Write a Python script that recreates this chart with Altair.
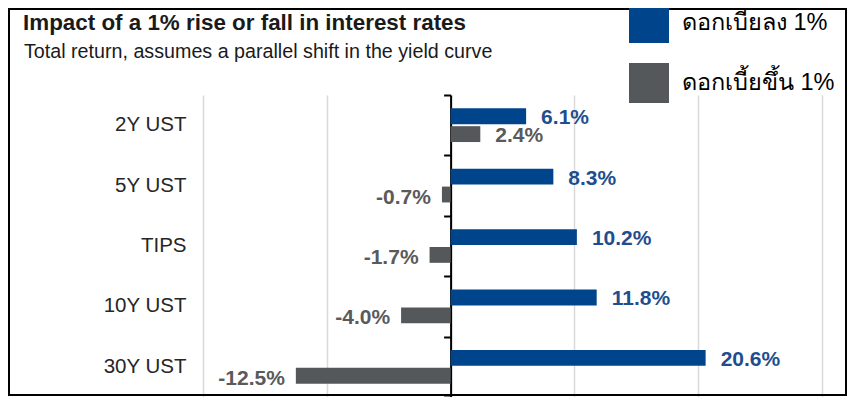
import altair as alt
import pandas as pd

categories = ["2Y UST", "5Y UST", "TIPS", "10Y UST", "30Y UST"]
rate_fall = [6.1, 8.3, 10.2, 11.8, 20.6]
rate_rise = [2.4, -0.7, -1.7, -4.0, -12.5]
series_names = ["ดอกเบี้ยลง 1%", "ดอกเบี้ยขึ้น 1%"]
series_colors = ["#00458B", "#55585B"]
label_colors = ["#1F4E8F", "#5A5A5A"]
x_ticks = [-20, -10, 0, 10, 20, 30]
title_text = "Impact of a 1% rise or fall in interest rates"
subtitle_text = "Total return, assumes a parallel shift in the yield curve"

rows = []
for c, f, r in zip(categories, rate_fall, rate_rise):
    rows.append({"cat": c, "series": series_names[0], "value": f})
    rows.append({"cat": c, "series": series_names[1], "value": r})
df = pd.DataFrame(rows)
df["label"] = df["value"].map(lambda v: f"{v:.1f}%")

FONT = "Liberation Sans"
W, H = 619, 302

x_scale = alt.Scale(domain=[-20, 30], nice=False)
y_scale = alt.Scale(domain=categories, paddingInner=0, paddingOuter=0)
yoff_scale = alt.Scale(domain=series_names, paddingInner=0.11, paddingOuter=0.75)

X = alt.X("value:Q", scale=x_scale,
          axis=alt.Axis(values=x_ticks, labels=False, ticks=False, domain=False,
                        title=None, grid=True, gridColor="#D9D9D9", gridWidth=1.5))
YOFF = alt.YOffset("series:N", scale=yoff_scale, sort=series_names)

base = alt.Chart(df)

bars = base.mark_bar().encode(
    x=X,
    y=alt.Y("cat:N", scale=y_scale, sort=categories,
            axis=alt.Axis(orient="left", title=None, domain=False, ticks=False, grid=False,
                          labelFont=FONT, labelFontSize=20.5, labelColor="#262626",
                          labelPadding=17)),
    yOffset=YOFF,
    color=alt.Color("series:N", sort=series_names,
                    scale=alt.Scale(domain=series_names, range=series_colors),
                    legend=alt.Legend(title=None, orient="none", legendX=426, legendY=-92,
                                      symbolType="square", symbolSize=1600,
                                      symbolStrokeWidth=0, labelFont=FONT,
                                      labelFontSize=23.5, labelColor="black",
                                      labelOffset=13, rowPadding=20, padding=0)),
)

label_color = alt.Color("series:N", scale=alt.Scale(domain=series_names, range=label_colors),
                        legend=None)

pos_labels = base.transform_filter("datum.value >= 0").mark_text(
    align="left", baseline="middle", dx=15, dy=2, font=FONT, fontSize=21, fontWeight="bold"
).encode(
    x=X,
    y=alt.Y("cat:N", scale=y_scale, sort=categories, axis=None),
    yOffset=YOFF,
    text="label:N",
    color=label_color,
)

neg_labels = base.transform_filter("datum.value < 0").mark_text(
    align="right", baseline="middle", dx=-11, dy=3, font=FONT, fontSize=21, fontWeight="bold"
).encode(
    x=X,
    y=alt.Y("cat:N", scale=y_scale, sort=categories,
            axis=alt.Axis(orient="left", offset=-247.6, labels=False, title=None, grid=False,
                          domain=True, domainColor="black", domainWidth=2,
                          ticks=True, tickColor="black", tickWidth=2, tickSize=7,
                          tickBand="extent")),
    yOffset=YOFF,
    text="label:N",
    color=label_color,
)

title = alt.Chart(pd.DataFrame({"t": [title_text]})).mark_text(
    align="left", baseline="alphabetic", font=FONT, fontSize=22.4, fontWeight="bold",
    color="#1A1A1A"
).encode(text="t:N", x=alt.value(-180), y=alt.value(-65))

subtitle = alt.Chart(pd.DataFrame({"t": [subtitle_text]})).mark_text(
    align="left", baseline="alphabetic", font=FONT, fontSize=19.7, color="#1A1A1A"
).encode(text="t:N", x=alt.value(-179), y=alt.value(-37))

frame = alt.Chart(pd.DataFrame({"a": [0]})).mark_rect(
    fillOpacity=0, stroke="black", strokeWidth=2
).encode(x=alt.value(-194), x2=alt.value(643), y=alt.value(-86), y2=alt.value(300))

chart = alt.layer(bars, pos_labels, neg_labels, title, subtitle, frame).resolve_scale(
    color="independent"
).resolve_axis(y="independent").properties(
    width=W, height=H,
    padding={"left": 195, "top": 87, "right": 25, "bottom": 0},
    autosize=alt.AutoSizeParams(type="none"),
    background="white",
).configure_view(strokeWidth=0)

chart.save("out.html", embed_options={"renderer": "svg", "actions": False})
